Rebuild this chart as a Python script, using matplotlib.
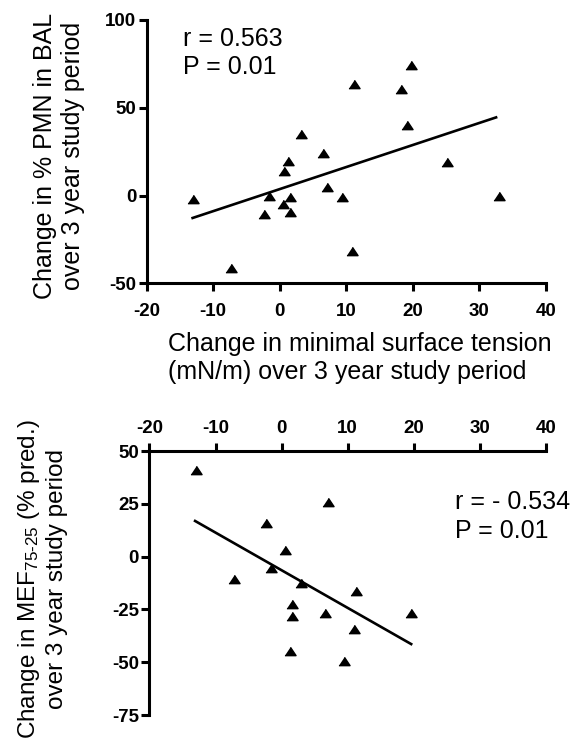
import numpy as np
import matplotlib
matplotlib.use("Agg")
import matplotlib.pyplot as plt

plt.rcParams["font.family"] = ["Liberation Sans", "DejaVu Sans"]
plt.rcParams["axes.unicode_minus"] = False
plt.rcParams["mathtext.fontset"] = "custom"
plt.rcParams["mathtext.rm"] = "Liberation Sans"
plt.rcParams["mathtext.it"] = "Liberation Sans:italic"
plt.rcParams["mathtext.bf"] = "Liberation Sans:bold"

# top panel: surface tension change vs PMN change
pmn_x = [-13.1, -7.3, -2.3, -1.6, 0.5, 0.6, 1.2, 1.6, 1.5, 3.2,
         6.5, 7.1, 9.4, 10.9, 11.2, 18.2, 19.1, 19.7, 25.2, 32.9]
pmn_y = [-1.9, -41.5, -10.5, 0.0, -4.7, 14.1, 19.5, -0.9, -9.2, 35.2,
         24.2, 4.7, -1.1, -31.6, 63.3, 60.5, 40.4, 74.6, 19.2, 0.0]
pmn_fit_x = [-13.1, 32.5]
pmn_fit_y = [-12.8, 44.5]

# bottom panel: surface tension change vs MEF75-25 change
mef_x = [-13.0, -7.2, -2.4, -1.6, 0.5, 1.6, 1.6, 1.2, 3.0, 6.5,
         7.0, 9.5, 11.0, 11.3, 19.5]
mef_y = [40.9, -10.4, 16.0, -5.3, 3.0, -22.2, -28.2, -44.6, -12.4, -26.9,
         25.9, -49.4, -34.3, -16.2, -26.9]
mef_fit_x = [-13.1, 19.6]
mef_fit_y = [16.9, -41.4]

x_ticks = [-20, -10, 0, 10, 20, 30, 40]
pmn_y_ticks = [-50, 0, 50, 100]
mef_y_ticks = [-75, -50, -25, 0, 25, 50]

tri = [(-1, -0.75), (1, -0.75), (0, 0.75)]


def style_axis(ax, xpad):
    for side in ["left", "top", "bottom", "right"]:
        ax.spines[side].set_linewidth(2.2)
    ax.tick_params(width=2.2, length=6, color="black")
    ax.tick_params(axis="y", pad=1.5)
    ax.tick_params(axis="x", pad=xpad)
    for lab in ax.get_xticklabels() + ax.get_yticklabels():
        lab.set_fontsize(13.5)
        lab.set_fontweight("bold")


fig = plt.figure(figsize=(5.71, 7.51), dpi=100)

ax1 = fig.add_axes([0.2569, 0.6228, 0.6993, 0.3506])
ax1.plot(pmn_x, pmn_y, linestyle="none", marker=tri, markersize=8, color="black")
ax1.plot(pmn_fit_x, pmn_fit_y, color="black", linewidth=1.9)
ax1.set_xlim(-20, 40)
ax1.set_ylim(-50, 100)
ax1.set_xticks(x_ticks)
ax1.set_yticks(pmn_y_ticks)
ax1.spines["top"].set_visible(False)
ax1.spines["right"].set_visible(False)
style_axis(ax1, 8)
ax1.text(-14.5, 89.2, "r = 0.563", fontsize=18, va="center", ha="left")
ax1.text(-14.5, 73.1, "P = 0.01", fontsize=18, va="center", ha="left")
ax1.set_ylabel("Change in % PMN in BAL\nover 3 year study period", fontsize=18,
               linespacing=1.2)
ax1.yaxis.set_label_coords(-0.155, 0.483)
fig.text(168 / 571, 1 - 358 / 751,
         "Change in minimal surface tension\n(mN/m) over 3 year study period",
         fontsize=18, ha="left", va="center", linespacing=1.2)

ax2 = fig.add_axes([0.2618, 0.0479, 0.6944, 0.3515])
ax2.plot(mef_x, mef_y, linestyle="none", marker=tri, markersize=8, color="black")
ax2.plot(mef_fit_x, mef_fit_y, color="black", linewidth=1.9)
ax2.set_xlim(-20, 40)
ax2.set_ylim(-75, 50)
ax2.xaxis.tick_top()
ax2.set_xticks(x_ticks)
ax2.set_yticks(mef_y_ticks)
ax2.spines["bottom"].set_visible(False)
ax2.spines["right"].set_visible(False)
style_axis(ax2, 4)
ax2.text(26.2, 25.9, "r = - 0.534", fontsize=18, va="center", ha="left")
ax2.text(26.2, 12.1, "P = 0.01", fontsize=18, va="center", ha="left")
ax2.set_ylabel("Change in MEF$_{\\mathregular{75\u201025}}$ (% pred.)\nover 3 year study period",
               fontsize=17.5, linespacing=1.2)
ax2.yaxis.set_label_coords(-0.206, 0.515)

fig.savefig("out.png", dpi=100)
